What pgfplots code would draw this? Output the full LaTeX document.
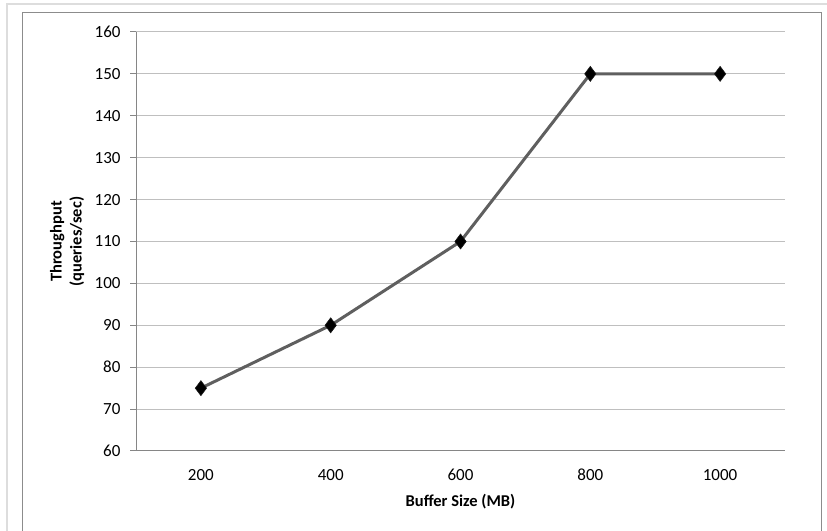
\documentclass[border=0pt]{standalone}
\usepackage{fontspec}
\setmainfont{Carlito}
\usepackage{pgfplots}
\pgfplotsset{compat=1.18}
\definecolor{gridc}{HTML}{BFBFBF}
\definecolor{axisc}{HTML}{868686}
\definecolor{framec}{HTML}{8C8C8C}
\definecolor{outerc}{HTML}{DDDDDD}
\definecolor{linec}{HTML}{5F5F5F}
\begin{document}
\begin{tikzpicture}[x=1bp,y=1bp]
\useasboundingbox (0,0) rectangle (827,531);
\draw[outerc,line width=1.5bp] (7,527) rectangle (840,-20);
\draw[framec,line width=1.2bp] (22.7,518.3) rectangle (821.7,-20);
\begin{axis}[
  at={(136bp,80bp)}, anchor=south west,
  scale only axis, width=649bp, height=419bp,
  xmin=-0.5, xmax=4.5, ymin=60, ymax=160,
  xtick={0,1,2,3,4}, xticklabels={200,400,600,800,1000},
  ytick={60,70,...,160},
  axis x line=bottom, axis y line=left,
  axis line style={-, axisc, line width=1bp},
  ymajorgrids, grid style={gridc, line width=1bp},
  tick align=outside,
  major tick length=6bp,
  x tick style={draw=none},
  y tick style={axisc, line width=1bp},
  /pgf/number format/assume math mode=true,
  tick label style={font=\fontsize{17bp}{20bp}\selectfont, text=black},
  yticklabel style={anchor=east, xshift=-6bp},
  xticklabel style={anchor=base, yshift=-24bp},
  label style={font=\fontsize{16.5bp}{19bp}\selectfont\bfseries},
  xlabel={Buffer Size (MB)},
  ylabel={Throughput\\[1bp](queries/sec)},
  xlabel style={at={(axis description cs:0.5,-0.122)}, anchor=center},
  ylabel style={at={(axis description cs:-0.106,0.5)}, anchor=center, align=center, rotate=0},
  clip=false,
]
\addplot[linec, line width=3bp, mark=diamond*, mark size=7.5bp,
  mark options={fill=black, draw=black!80!gray, line width=0.6bp, solid}]
  coordinates {(0,75) (1,90) (2,110) (3,150) (4,150)};
\end{axis}
\end{tikzpicture}
\end{document}
